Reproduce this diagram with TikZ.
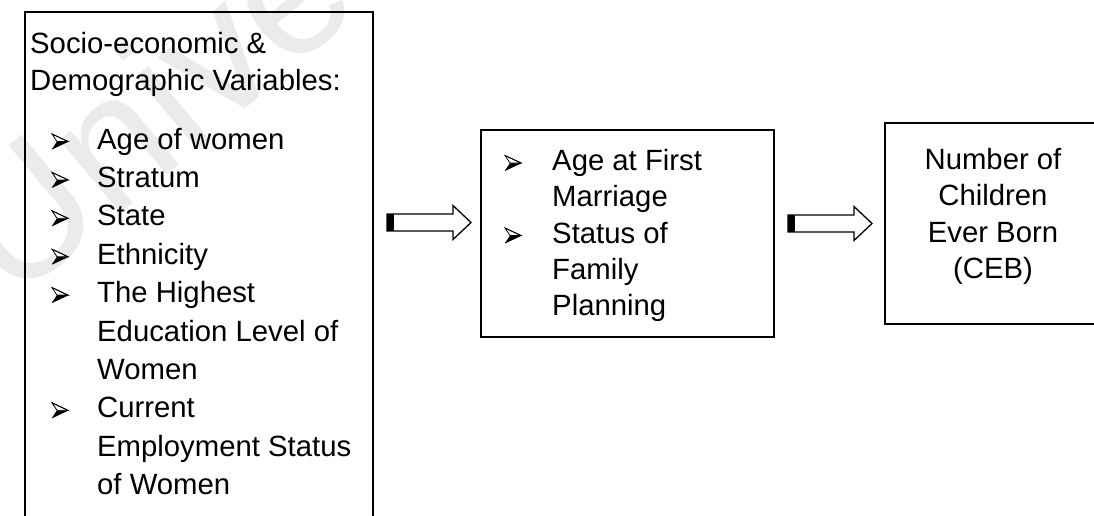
\documentclass[tikz,border=0pt]{standalone}
\usepackage{fontspec}
\setmainfont{Liberation Sans}
\tikzset{
  box/.style={draw, line width=1.6pt, inner sep=0pt, outer sep=0pt},
  txt/.style={anchor=base west, inner sep=0pt, font=\fontsize{29.3pt}{36pt}\selectfont},
  ctxt/.style={anchor=base, inner sep=0pt, font=\fontsize{29.3pt}{36pt}\selectfont},
  wmark/.style={anchor=base west, inner sep=0pt, text=black!8, font=\fontsize{180pt}{180pt}\selectfont},
  arrowline/.style={draw, line width=1.3pt, line join=miter},
  bul/.pic={
    \fill[black] (5,-7.5) -- (16,-7.5) -- (0,0) -- cycle;
    \draw[line width=0.8pt, fill=white, line join=miter] (0,-15) -- (16,-7.5) -- (5,-7.5) -- cycle;
    \draw[line width=0.8pt, line join=miter] (0,-15) -- (16,-7.5) -- (0,0);
  }
}
\newcommand\hollowarrow[1]{%
  \draw[arrowline] ([shift={(0,-8.5)}]#1) -- ++(66,0) -- ++(0,-8.5) -- ++(18,17) -- ++(-18,17) -- ++(0,-8.5) -- ++(-66,0) -- cycle;
  \fill ([shift={(0,-8.5)}]#1) rectangle ++(7,17);}
\begin{document}
\begin{tikzpicture}[x=1pt,y=-1pt]
\useasboundingbox (0,0) rectangle (1094,515);
\clip (0,0) rectangle (1094,515);
\fill[white] (0,0) rectangle (1094,515);
% watermark
\node[wmark, rotate=40] (wm) at (12,305) {Univer};
% boxes
\node[box, minimum width=348pt, minimum height=608pt] (L) at (199,316) {};
\node[box, minimum width=293pt, minimum height=207pt] (M) at (627.5,233.5) {};
\node[box, minimum width=216pt, minimum height=201pt] (R) at (993,223.5) {};
% arrows
\coordinate (a1) at (387,222.5);
\coordinate (a2) at (788,223.5);
\hollowarrow{a1}
\hollowarrow{a2}
% left box text
\node[txt] (l1) at (30,53) {Socio-economic \&};
\node[txt] (l2) at (30,90) {Demographic Variables:};
\foreach \y in {149,187.4,225.8,264.2,302.6,417.8} \pic at (52,\y) {bul};
\node[txt] (l3) at (97,149) {Age of women};
\node[txt] (l4) at (97,187.4) {Stratum};
\node[txt] (l5) at (97,225.8) {State};
\node[txt] (l6) at (97,264.2) {Ethnicity};
\node[txt] (l7) at (97,302.6) {The Highest};
\node[txt] (l8) at (97,341) {Education Level of};
\node[txt] (l9) at (97,379.4) {Women};
\node[txt] (l10) at (97,417.8) {Current};
\node[txt] (l11) at (97,456.2) {Employment Status};
\node[txt] (l12) at (97,494.6) {of Women};
% middle box text
\foreach \y in {170.5,243} \pic at (505,\y) {bul};
\node[txt] (m1) at (552,170.5) {Age at First};
\node[txt] (m2) at (552,206.8) {Marriage};
\node[txt] (m3) at (552,243) {Status of};
\node[txt] (m4) at (552,279.3) {Family};
\node[txt] (m5) at (552,315.6) {Planning};
% right box text
\node[ctxt] (r1) at (993,169) {Number of};
\node[ctxt] (r2) at (993,205.5) {Children};
\node[ctxt] (r3) at (993,242) {Ever Born};
\node[ctxt] (r4) at (993,278.5) {(CEB)};
\end{tikzpicture}
\end{document}
